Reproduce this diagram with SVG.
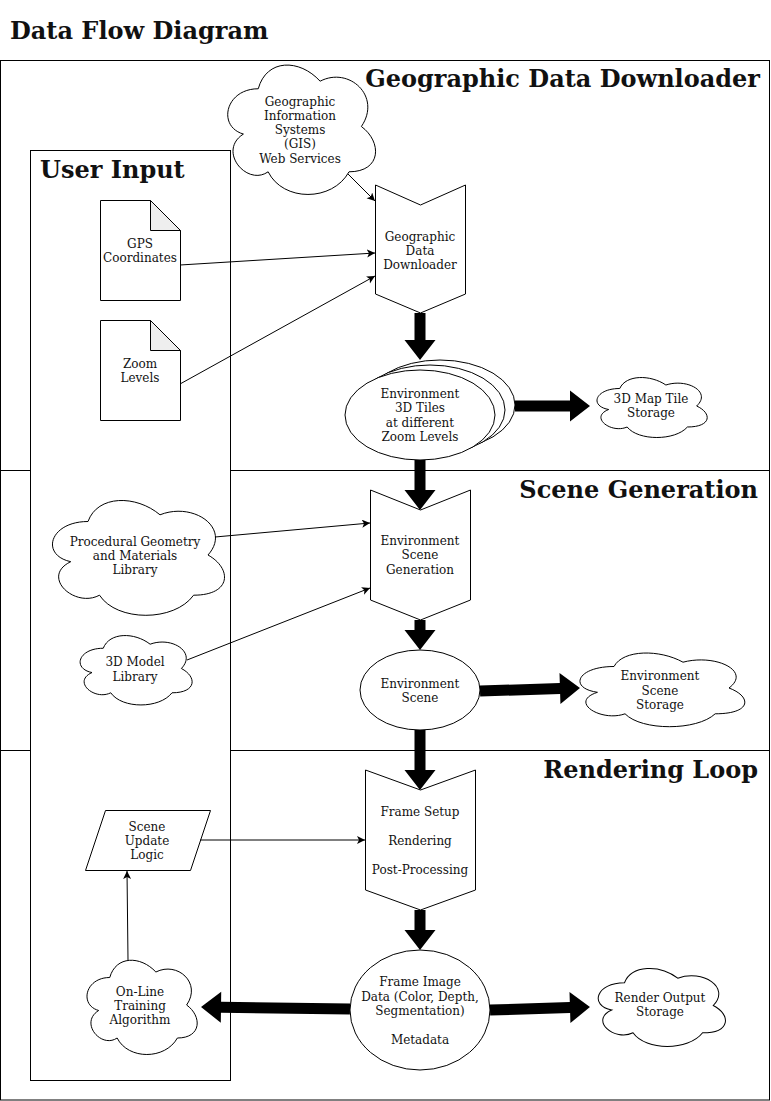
<svg xmlns="http://www.w3.org/2000/svg" xmlns:xlink="http://www.w3.org/1999/xlink" width="771" height="1101" viewBox="0 0 771 1101">
<style>
text{font-family:"DejaVu Serif","Liberation Serif",serif;fill:#111;}
.t{font-size:12px;text-anchor:middle;}
.h{font-size:24px;font-weight:bold;}
.he{font-size:24px;font-weight:bold;text-anchor:end;}
.s{fill:#fff;stroke:#000;stroke-width:1;}
.c{fill:none;stroke:#000;stroke-width:1;}
.big{fill:#000;stroke:none;}
</style>
<defs>
<symbol id="cloud" viewBox="0 0 100 100" preserveAspectRatio="none" overflow="visible">
<path d="M25 25C5 25 0 50 16 55C0 66 18 90 31 80C40 100 70 100 80 80C100 80 100 60 87.5 50C100 30 80 10 62.5 20C50 5 30 5 25 25Z" fill="#fff" stroke="#000" stroke-width="1" vector-effect="non-scaling-stroke"/>
</symbol>
<marker id="a" markerWidth="10" markerHeight="10" refX="8" refY="4" orient="auto" markerUnits="userSpaceOnUse">
<path d="M0,0 L8,4 L0,8 L2,4 Z" fill="#000"/>
</marker>
</defs>
<rect width="771" height="1101" fill="#fff"/>
<text class="h" x="10" y="39">Data Flow Diagram</text>

<g id="lanes">
<rect class="c" x="0.5" y="60.5" width="769" height="1039.5"/>
<line class="c" x1="0" y1="470.5" x2="770" y2="470.5"/>
<line class="c" x1="0" y1="750.5" x2="770" y2="750.5"/>
<text class="he" x="760" y="87">Geographic Data Downloader</text>
<text class="he" x="758" y="498">Scene Generation</text>
<text class="he" x="758" y="778">Rendering Loop</text>
</g>

<g id="user-input">
<rect class="s" x="30.5" y="150.5" width="200" height="930"/>
<text class="h" x="40" y="178">User Input</text>
</g>

<g id="gis">
<use xlink:href="#cloud" href="#cloud" x="217" y="51" width="165" height="151"/>
<text class="t" x="300" y="106">Geographic</text>
<text class="t" x="300" y="120">Information</text>
<text class="t" x="300" y="134">Systems</text>
<text class="t" x="300" y="148">(GIS)</text>
<text class="t" x="300" y="163">Web Services</text>
</g>

<g id="downloader">
<polygon class="s" points="375.5,185 420.5,205 465.5,185 465.5,294 420.5,313 375.5,294"/>
<text class="t" x="420" y="241">Geographic</text>
<text class="t" x="420" y="255">Data</text>
<text class="t" x="420" y="269">Downloader</text>
</g>

<g id="gps">
<path class="s" d="M100.5,200.5 H150.5 L180.5,230.5 V300.5 H100.5 Z"/>
<path d="M150.5,200.5 V230.5 H180.5 Z" fill="#eee" stroke="#000" stroke-width="1"/>
<text class="t" x="140" y="248">GPS</text>
<text class="t" x="140" y="262">Coordinates</text>
</g>

<g id="zoom">
<path class="s" d="M100.5,320.5 H150.5 L180.5,350.5 V420.5 H100.5 Z"/>
<path d="M150.5,320.5 V350.5 H180.5 Z" fill="#eee" stroke="#000" stroke-width="1"/>
<text class="t" x="140" y="368">Zoom</text>
<text class="t" x="140" y="382">Levels</text>
</g>

<g id="tiles">
<ellipse class="s" cx="440" cy="405" rx="75" ry="45"/>
<ellipse class="s" cx="430" cy="410" rx="75" ry="45"/>
<ellipse class="s" cx="420" cy="415" rx="75" ry="45"/>
<text class="t" x="420" y="398">Environment</text>
<text class="t" x="420" y="412">3D Tiles</text>
<text class="t" x="420" y="427">at different</text>
<text class="t" x="420" y="441">Zoom Levels</text>
</g>

<g id="tile-storage">
<use xlink:href="#cloud" href="#cloud" x="589" y="371" width="123" height="70"/>
<text class="t" x="651" y="403">3D Map Tile</text>
<text class="t" x="651" y="417">Storage</text>
</g>

<g id="scene-gen">
<polygon class="s" points="370.5,490 420.5,510 470.5,490 470.5,600 420.5,620 370.5,600"/>
<text class="t" x="420" y="545">Environment</text>
<text class="t" x="420" y="559">Scene</text>
<text class="t" x="420" y="574">Generation</text>
</g>

<g id="procedural">
<use xlink:href="#cloud" href="#cloud" x="40" y="488" width="192" height="134"/>
<text class="t" x="135" y="546">Procedural Geometry</text>
<text class="t" x="135" y="560">and Materials</text>
<text class="t" x="135" y="574">Library</text>
</g>

<g id="model-lib">
<use xlink:href="#cloud" href="#cloud" x="72" y="628" width="125" height="81"/>
<text class="t" x="135" y="666">3D Model</text>
<text class="t" x="135" y="681">Library</text>
</g>

<g id="env-scene">
<ellipse class="s" cx="420" cy="690" rx="60" ry="40"/>
<text class="t" x="420" y="688">Environment</text>
<text class="t" x="420" y="702">Scene</text>
</g>

<g id="scene-storage">
<use xlink:href="#cloud" href="#cloud" x="568" y="645" width="184" height="86"/>
<text class="t" x="660" y="680">Environment</text>
<text class="t" x="660" y="695">Scene</text>
<text class="t" x="660" y="709">Storage</text>
</g>

<g id="render">
<polygon class="s" points="365.5,770 420.5,790 475.5,770 475.5,890 420.5,910 365.5,890"/>
<text class="t" x="420" y="816">Frame Setup</text>
<text class="t" x="420" y="845">Rendering</text>
<text class="t" x="420" y="874">Post-Processing</text>
</g>

<g id="scene-update">
<polygon class="s" points="105.5,810.5 210.5,810.5 190.5,870.5 85.5,870.5"/>
<text class="t" x="147" y="831">Scene</text>
<text class="t" x="147" y="845">Update</text>
<text class="t" x="147" y="859">Logic</text>
</g>

<g id="frame-image">
<ellipse class="s" cx="420" cy="1010" rx="70" ry="60"/>
<text class="t" x="420" y="986">Frame Image</text>
<text class="t" x="420" y="1001">Data (Color, Depth,</text>
<text class="t" x="420" y="1015">Segmentation)</text>
<text class="t" x="420" y="1044">Metadata</text>
</g>

<g id="training">
<use xlink:href="#cloud" href="#cloud" x="79" y="950" width="123" height="110"/>
<text class="t" x="140" y="996">On-Line</text>
<text class="t" x="140" y="1010">Training</text>
<text class="t" x="140" y="1024">Algorithm</text>
</g>

<g id="render-storage">
<use xlink:href="#cloud" href="#cloud" x="589" y="960" width="142" height="91"/>
<text class="t" x="660" y="1002">Render Output</text>
<text class="t" x="660" y="1016">Storage</text>
</g>

<g id="connectors">
<line class="c" x1="348" y1="174" x2="375" y2="201" marker-end="url(#a)"/>
<line class="c" x1="180" y1="265" x2="375" y2="253" marker-end="url(#a)"/>
<line class="c" x1="180" y1="384" x2="375" y2="276" marker-end="url(#a)"/>
<line class="c" x1="215" y1="537" x2="370" y2="523" marker-end="url(#a)"/>
<line class="c" x1="187" y1="660" x2="370" y2="588" marker-end="url(#a)"/>
<line class="c" x1="200" y1="840" x2="365" y2="840" marker-end="url(#a)"/>
<line class="c" x1="128" y1="960" x2="127" y2="871" marker-end="url(#a)"/>
<polygon class="big" points="0,-5.5 27,-5.5 27,-15.5 47,0 27,15.5 27,5.5 0,5.5" transform="translate(420,313) rotate(90)"/>
<polygon class="big" points="0,-5.5 55,-5.5 55,-15.5 75,0 55,15.5 55,5.5 0,5.5" transform="translate(515,406)"/>
<polygon class="big" points="0,-5.5 30,-5.5 30,-15.5 50,0 30,15.5 30,5.5 0,5.5" transform="translate(420,460) rotate(90)"/>
<polygon class="big" points="0,-5.5 10,-5.5 10,-15.5 30,0 10,15.5 10,5.5 0,5.5" transform="translate(420,620) rotate(90)"/>
<polygon class="big" points="0,-5.5 80,-5.5 80,-15.5 100,0 80,15.5 80,5.5 0,5.5" transform="translate(480,691) rotate(-1.72)"/>
<polygon class="big" points="0,-5.5 40,-5.5 40,-15.5 60,0 40,15.5 40,5.5 0,5.5" transform="translate(420,730) rotate(90)"/>
<polygon class="big" points="0,-5.5 20,-5.5 20,-15.5 40,0 20,15.5 20,5.5 0,5.5" transform="translate(420,910) rotate(90)"/>
<polygon class="big" points="0,-5.5 129,-5.5 129,-15.5 149,0 129,15.5 129,5.5 0,5.5" transform="translate(350,1009) rotate(180.77)"/>
<polygon class="big" points="0,-5.5 80,-5.5 80,-15.5 100,0 80,15.5 80,5.5 0,5.5" transform="translate(490,1010) rotate(-1.72)"/>
</g>
</svg>
